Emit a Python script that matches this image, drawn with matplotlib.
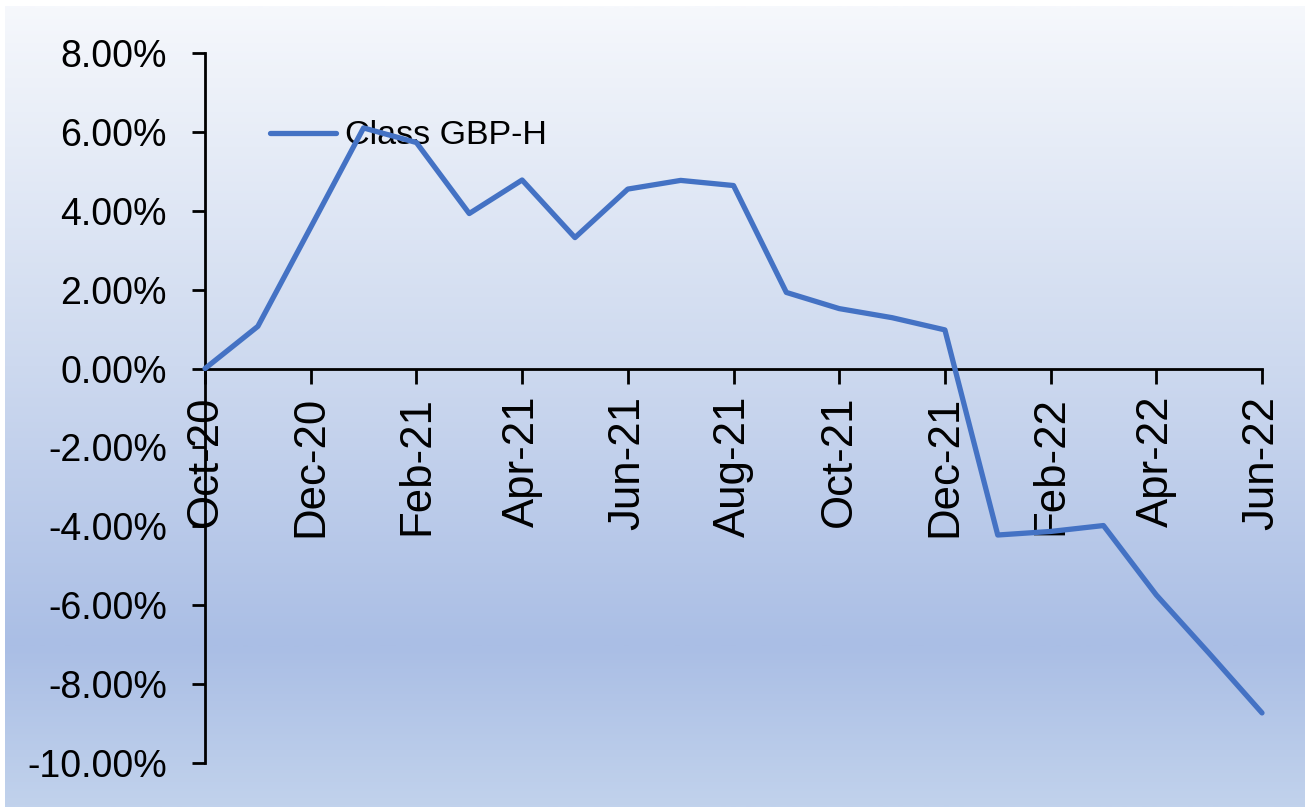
import numpy as np
import matplotlib
matplotlib.use("Agg")
import matplotlib.pyplot as plt
from matplotlib.colors import LinearSegmentedColormap

months = ["Oct-20", "Nov-20", "Dec-20", "Jan-21", "Feb-21", "Mar-21", "Apr-21",
          "May-21", "Jun-21", "Jul-21", "Aug-21", "Sep-21", "Oct-21", "Nov-21",
          "Dec-21", "Jan-22", "Feb-22", "Mar-22", "Apr-22", "May-22", "Jun-22"]
class_gbp_h = [0.00, 1.07, 3.58, 6.10, 5.73, 3.93, 4.78, 3.32, 4.55, 4.77, 4.64,
               1.93, 1.52, 1.29, 0.98, -4.22, -4.13, -3.98, -5.74, -7.22, -8.73]
series_name = "Class GBP-H"
y_ticks = [8, 6, 4, 2, 0, -2, -4, -6, -8, -10]
y_tick_labels = ["8.00%", "6.00%", "4.00%", "2.00%", "0.00%", "-2.00%",
                 "-4.00%", "-6.00%", "-8.00%", "-10.00%"]

W, H = 1305, 807
fig = plt.figure(figsize=(W / 100, H / 100), dpi=100)
fig.patch.set_facecolor("white")

# gradient background
bg = fig.add_axes([5 / W, 0, 1 - 5 / W, 1 - 6 / H])
bg.set_axis_off()
cmap = LinearSegmentedColormap.from_list(
    "bg",
    [(0.0, (246 / 255, 248 / 255, 252 / 255)),
     (0.45, (205 / 255, 217 / 255, 239 / 255)),
     (0.80, (170 / 255, 190 / 255, 229 / 255)),
     (1.0, (193 / 255, 210 / 255, 236 / 255))])
grad = np.linspace(0, 1, 512).reshape(-1, 1)
bg.imshow(grad, aspect="auto", cmap=cmap, extent=[0, 1, 1, 0])
bg.set_zorder(-10)

regular = ["Liberation Sans", "DejaVu Sans"]

ax = fig.add_axes([205 / W, 1 - 763 / H, (1262 - 205) / W, (763 - 53) / H])
ax.patch.set_alpha(0)
x = np.arange(len(months))
line, = ax.plot(x, class_gbp_h, color="#4472c4", lw=3.8, solid_joinstyle="round",
                solid_capstyle="round", label=series_name, clip_on=False, zorder=3)

ax.set_xlim(0, len(months) - 1)
ax.set_ylim(-10, 8)
for s in ["top", "right"]:
    ax.spines[s].set_visible(False)
ax.spines["bottom"].set_position(("data", 0))
for s in ["left", "bottom"]:
    ax.spines[s].set_linewidth(2)
    ax.spines[s].set_color("black")

ax.set_yticks(y_ticks)
ax.set_yticklabels(y_tick_labels, family=regular, fontsize=27)
ax.tick_params(axis="y", direction="out", length=9.5, width=2, pad=18)

ax.set_xticks(x[::2])
ax.set_xticklabels(months[::2], family=regular, fontsize=31.5, rotation=90,
                   ha="center", va="top")
ax.tick_params(axis="x", direction="out", length=10.5, width=2, pad=9)

leg = ax.legend(handles=[line], loc="center left",
                bbox_to_anchor=(270 / W, 1 - 136 / H), bbox_transform=fig.transFigure,
                frameon=False, borderpad=0, borderaxespad=0, handlelength=1.95,
                handletextpad=0.25, prop={"family": regular, "size": 24.5})
leg.set_zorder(2)

fig.savefig("out.png", dpi=100)
